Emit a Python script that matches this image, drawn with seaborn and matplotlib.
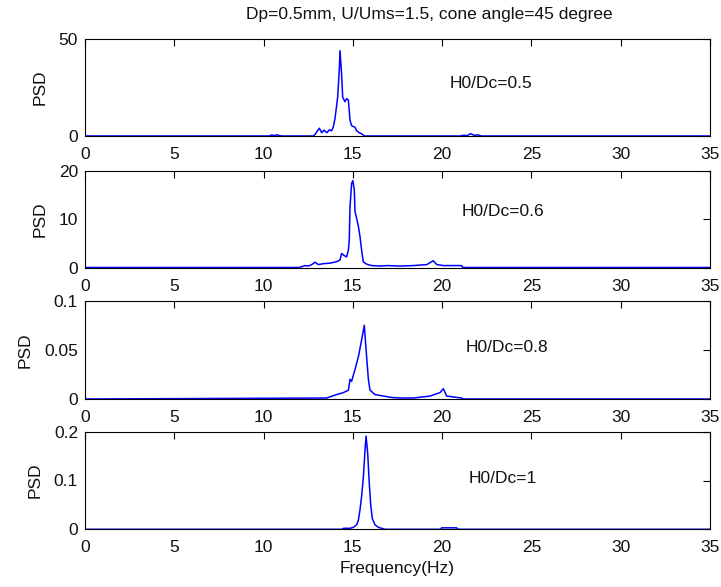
import matplotlib
matplotlib.use("Agg")
import matplotlib.pyplot as plt
import seaborn as sns
import pandas as pd

# ---- data ----
freq1 = [0, 10.3, 10.45, 10.6, 10.75, 10.9, 11.05, 12.79, 12.88, 13.12, 13.26, 13.39, 13.54, 13.69, 13.81, 13.9, 14.0,
         14.15, 14.24, 14.28, 14.37, 14.43, 14.56, 14.65, 14.75, 14.84, 14.93, 15.12, 15.21, 15.36, 15.55, 15.62,
         21.0, 21.2, 21.4, 21.6, 21.8, 22.0, 22.2, 35]
psd1 = [0, 0, 0.5, 0.2, 0.6, 0.2, 0, 0, 0.8, 4.0, 1.7, 3.0, 1.7, 3.2, 2.7, 4.5, 9.0,
        20, 34, 44, 32, 20, 17.7, 19.3, 18.5, 8.2, 5.3, 4.5, 2.7, 1.7, 0.8, 0,
        0, 0.4, 0.2, 1.2, 0.3, 0.6, 0, 0]

freq2 = [0, 12.0, 12.14, 12.32, 12.5, 12.7, 12.88, 13.07, 13.35, 13.72,
         14.09, 14.28, 14.37, 14.5, 14.65, 14.75, 14.8, 14.84, 14.93, 15.0,
         15.08, 15.12, 15.21, 15.31, 15.4, 15.49, 15.58, 15.77, 16.05, 16.52,
         16.9, 17.64, 18.39, 19.14, 19.5, 19.7, 20.07, 21.09, 21.15, 35]
psd2 = [0, 0, 0.2, 0.4, 0.3, 0.6, 1.1, 0.6, 0.8, 0.9,
        1.2, 1.55, 2.9, 2.5, 2.2, 3.6, 5.7, 12.6, 17.4, 18.0,
        16.1, 11.6, 10.2, 8.5, 6.4, 3.6, 1.2, 0.7, 0.4, 0.3,
        0.4, 0.3, 0.4, 0.6, 1.4, 0.6, 0.4, 0.4, 0, 0]

freq3 = [0, 13.53, 14.09, 14.47, 14.75, 14.84, 14.93, 15.12, 15.31, 15.49,
         15.64, 15.77, 15.87, 15.96, 16.24, 16.71, 17.2, 17.7, 18.39, 19.32,
         19.88, 20.07, 20.25, 21.09, 21.15, 35]
psd3 = [0, 0.001, 0.0045, 0.0065, 0.009, 0.02, 0.018, 0.03, 0.043, 0.06,
        0.075, 0.043, 0.02, 0.009, 0.0045, 0.003, 0.0015, 0.001, 0.001, 0.003,
        0.0065, 0.0105, 0.003, 0.001, 0, 0]

freq4 = [0, 14.4, 14.47, 14.84, 15.03, 15.21, 15.31, 15.4, 15.49, 15.59,
         15.68, 15.74, 15.83, 15.92, 16.0, 16.09, 16.24, 16.43, 16.71, 16.8,
         19.9, 19.97, 20.81, 20.9, 35]
psd4 = [0, 0, 0.002, 0.002, 0.004, 0.009, 0.019, 0.04, 0.067, 0.108,
        0.162, 0.191, 0.156, 0.094, 0.05, 0.022, 0.009, 0.004, 0.001, 0,
        0, 0.003, 0.003, 0, 0]

panel_labels = ["H0/Dc=0.5", "H0/Dc=0.6", "H0/Dc=0.8", "H0/Dc=1"]
ylims = [50, 20, 0.1, 0.2]
yticks = [[0, 50], [0, 10, 20], [0, 0.05, 0.1], [0, 0.1, 0.2]]
yticklabels = [["0", "50"], ["0", "10", "20"], ["0", "0.05", "0.1"], ["0", "0.1", "0.2"]]
xticks = [0, 5, 10, 15, 20, 25, 30, 35]
title = "Dp=0.5mm, U/Ums=1.5, cone angle=45 degree"
xlabel = "Frequency(Hz)"
ylabel = "PSD"

# ---- style ----
sns.set_style("white")
plt.rcParams["font.family"] = ["Liberation Sans", "DejaVu Sans"]
fs = 12.5
tc = "#111111"

fig = plt.figure(figsize=(7.21, 5.87), dpi=100)
fig.patch.set_facecolor("white")

W, H = 721, 587
left_px, right_px = 85, 710
panels_px = [(39, 136), (171, 267.5), (300.7, 399), (431.7, 529.3)]
label_pos = [(20.44, 27.3), (21.07, 11.6), (21.3, 0.052), (21.5, 0.105)]

series = [(freq1, psd1), (freq2, psd2), (freq3, psd3), (freq4, psd4)]
for i, ((fq, ps), (top, bot)) in enumerate(zip(series, panels_px)):
    ax = fig.add_axes([left_px / W, 1 - bot / H, (right_px - left_px) / W, (bot - top) / H])
    df = pd.DataFrame({"f": fq, "p": ps})
    sns.lineplot(data=df, x="f", y="p", ax=ax, color="#0000ff", linewidth=1.1, estimator=None, sort=False)
    ax.set_xlim(0, 35)
    ax.set_ylim(0, ylims[i])
    ax.set_xticks(xticks)
    ax.set_xticklabels([str(x) for x in xticks], fontsize=fs)
    ax.set_yticks(yticks[i])
    ax.set_yticklabels(yticklabels[i], fontsize=fs)
    ax.tick_params(direction="in", length=5, width=0.8, top=True, right=True, colors="black",
                   labelcolor=tc)
    ax.tick_params(axis="x", pad=8)
    ax.tick_params(axis="y", pad=5)
    for s in ax.spines.values():
        s.set_visible(True)
        s.set_color("black")
        s.set_linewidth(0.8)
    ax.set_xlabel("")
    ax.set_ylabel(ylabel, fontsize=fs, color=tc, labelpad=8)
    ax.text(label_pos[i][0], label_pos[i][1], panel_labels[i], fontsize=fs, color=tc,
            va="center", ha="left")
    ax.set_facecolor("white")
    if i == 3:
        ax.set_xlabel(xlabel, fontsize=fs, color=tc, labelpad=4)

fig.text(429 / W, 1 - 14 / H, title, fontsize=fs, ha="center", va="center", color=tc)

fig.savefig("out.png", dpi=100, facecolor="white")
